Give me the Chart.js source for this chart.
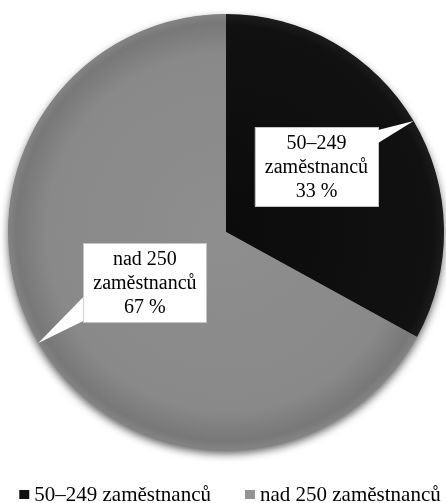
<!DOCTYPE html>
<html>
<head>
  <meta charset="utf-8">
  <title>Velikost podniku</title>
  <script src="https://cdn.jsdelivr.net/npm/chart.js"></script>
  <style>
    html, body { margin: 0; padding: 0; background: #fff; }
    #wrap { width: 446px; height: 503px; }
  </style>
</head>
<body>
  <div id="wrap">
    <canvas id="pieChart" width="446" height="503"></canvas>
  </div>

  <script>
    // Chart data
    const categories = ['50–249 zaměstnanců', 'nad 250 zaměstnanců'];
    const shares = [33, 67];
    const sliceColors = ['#0e0e0e', '#8b8b8b'];
    const legendColors = ['#111111', '#939393'];

    // Where each callout box sits, as a fraction of the radius from the centre
    const calloutOffsets = [[0.415, -0.30], [-0.372, 0.232]];

    const serif = '"Liberation Serif", "Times New Roman", serif';

    // Soft radial shading for the slices
    function sliceFill(context) {
      const chart = context.chart;
      const area = chart.chartArea;
      const base = sliceColors[context.dataIndex];
      if (!area) return base;
      const cx = (area.left + area.right) / 2;
      const cy = (area.top + area.bottom) / 2;
      const r = Math.min(area.right - area.left, area.bottom - area.top) / 2;
      const g = chart.ctx.createRadialGradient(cx, cy, 0, cx, cy, r);
      if (context.dataIndex === 0) {
        g.addColorStop(0, '#0b0b0b');
        g.addColorStop(0.95, '#111111');
        g.addColorStop(1, '#1c1c1c');
      } else {
        g.addColorStop(0, '#8e8e8e');
        g.addColorStop(0.82, '#898989');
        g.addColorStop(0.96, '#787878');
        g.addColorStop(1, '#848484');
      }
      return g;
    }

    // Drop shadow under the whole pie
    const pieShadow = {
      id: 'pieShadow',
      beforeDatasetsDraw(chart) {
        const arc = chart.getDatasetMeta(0).data[0];
        if (!arc) return;
        const ctx = chart.ctx;
        ctx.save();
        ctx.shadowColor = 'rgba(0,0,0,0.65)';
        ctx.shadowBlur = 8;
        ctx.shadowOffsetY = 4;
        ctx.fillStyle = '#777';
        ctx.beginPath();
        ctx.arc(arc.x, arc.y, arc.outerRadius - 0.5, 0, Math.PI * 2);
        ctx.fill();
        ctx.restore();
      }
    };

    // White callout boxes with a pointer to the slice edge
    const callouts = {
      id: 'callouts',
      afterDatasetsDraw(chart) {
        const ctx = chart.ctx;
        const meta = chart.getDatasetMeta(0);
        const lineH = 24;
        ctx.save();
        ctx.font = '20px ' + serif;
        meta.data.forEach((arc, i) => {
          const label = chart.data.labels[i];
          const cut = label.lastIndexOf(' ');
          const lines = [label.slice(0, cut), label.slice(cut + 1),
                         chart.data.datasets[0].data[i] + ' %'];
          const w = Math.max(...lines.map(t => ctx.measureText(t).width)) + 20;
          const h = 79;
          const bx = arc.x + calloutOffsets[i][0] * arc.outerRadius;
          const by = arc.y + calloutOffsets[i][1] * arc.outerRadius;
          const left = bx - w / 2, top = by - h / 2;
          const right = left + w, bottom = top + h;

          // pointer tip on the outer edge at the slice's middle angle
          const mid = (arc.startAngle + arc.endAngle) / 2;
          const tx = arc.x + Math.cos(mid) * arc.outerRadius;
          const ty = arc.y + Math.sin(mid) * arc.outerRadius;

          ctx.fillStyle = '#ffffff';
          ctx.strokeStyle = '#c4c4c4';
          ctx.lineWidth = 1;
          ctx.fillRect(left, top, w, h);
          ctx.strokeRect(Math.round(left) + 0.5, Math.round(top) + 0.5, Math.round(w), Math.round(h));

          const sx = tx > bx ? right : left;
          ctx.beginPath();
          if (ty < by) {
            ctx.moveTo(sx, top + 3);
            ctx.lineTo(tx, ty);
            ctx.lineTo(sx, top + 16);
          } else {
            ctx.moveTo(sx, bottom - 1);
            ctx.lineTo(tx, ty);
            ctx.lineTo(sx, bottom - 25);
          }
          ctx.closePath();
          ctx.fill();

          ctx.fillStyle = '#000';
          ctx.textAlign = 'center';
          ctx.textBaseline = 'middle';
          lines.forEach((t, k) => ctx.fillText(t, bx, by + (k - 1) * lineH + 1));
        });
        ctx.restore();
      }
    };

    // Legend row under the pie
    const bottomLegend = {
      id: 'bottomLegend',
      afterDraw(chart) {
        const ctx = chart.ctx;
        const area = chart.chartArea;
        const box = 10, gap = 5, spacing = 34;
        ctx.save();
        ctx.font = '21px ' + serif;
        const widths = categories.map(t => box + gap + ctx.measureText(t).width);
        const total = widths.reduce((a, b) => a + b, 0) + spacing * (widths.length - 1);
        let x = (area.left + area.right) / 2 - total / 2 + 4;
        const y = 495;
        categories.forEach((t, i) => {
          ctx.fillStyle = legendColors[i];
          ctx.fillRect(x, y - 5, box, 9);
          ctx.fillStyle = '#000';
          ctx.textAlign = 'left';
          ctx.textBaseline = 'middle';
          ctx.fillText(t, x + box + gap, y);
          x += widths[i] + spacing;
        });
        ctx.restore();
      }
    };

    new Chart(document.getElementById('pieChart').getContext('2d'), {
      type: 'pie',
      data: {
        labels: categories,
        datasets: [{
          data: shares,
          backgroundColor: sliceFill,
          borderWidth: 0
        }]
      },
      options: {
        responsive: false,
        animation: false,
        layout: { padding: { top: 13, left: 8, right: 2, bottom: 52 } },
        plugins: {
          legend: { display: false },
          tooltip: { enabled: false }
        }
      },
      plugins: [pieShadow, callouts, bottomLegend]
    });
  </script>
</body>
</html>
